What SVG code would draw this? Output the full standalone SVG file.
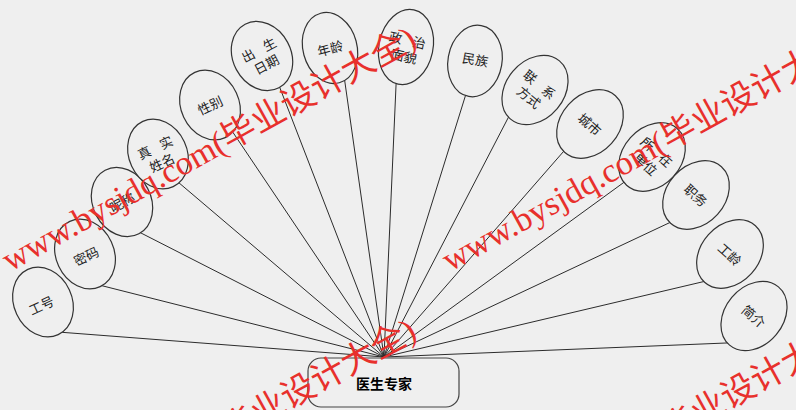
<svg xmlns="http://www.w3.org/2000/svg" xmlns:xlink="http://www.w3.org/1999/xlink" width="796" height="410" viewBox="0 0 796 410">
<style>
.bg{fill:#efefef}
.conn line{stroke:#2b2b2b;stroke-width:1}
.node ellipse{fill:#efefef;stroke:#333;stroke-width:1.2}
.node text{font-family:"Noto Sans CJK SC","Noto Sans",sans-serif;font-size:13px;fill:#222;text-anchor:middle;dominant-baseline:central}
.ent rect{fill:#efefef;stroke:#444;stroke-width:1.2}
.ent text{font-family:"Noto Sans CJK SC","Noto Sans",sans-serif;font-size:14px;font-weight:bold;fill:#000;text-anchor:middle;dominant-baseline:central}
.wm{font-family:"Liberation Serif","Noto Sans CJK SC",serif;font-size:34px;fill:#e8302c}
</style>
<defs>
<text id="wmtext" class="wm" x="0" y="0" textLength="467" lengthAdjust="spacingAndGlyphs">www.bysjdq.com(毕业设计大全)</text>
</defs>
<rect class="bg" x="0" y="0" width="796" height="410"/>
<g id="connectors" class="conn">
<line x1="58" y1="332" x2="384" y2="357"/>
<line x1="97.2" y1="284.5" x2="384" y2="357"/>
<line x1="135.7" y1="230.3" x2="384" y2="357"/>
<line x1="173.4" y1="178.1" x2="384" y2="357"/>
<line x1="232.7" y1="132" x2="384" y2="357"/>
<line x1="277.8" y1="82.4" x2="384" y2="357"/>
<line x1="344.2" y1="77.1" x2="384" y2="357"/>
<line x1="396.3" y1="79" x2="384" y2="357"/>
<line x1="466.8" y1="91.3" x2="384" y2="357"/>
<line x1="510.8" y1="112.7" x2="384" y2="357"/>
<line x1="567" y1="147.5" x2="384" y2="357"/>
<line x1="627.8" y1="179.5" x2="384" y2="357"/>
<line x1="674.4" y1="220.4" x2="384" y2="357"/>
<line x1="707.8" y1="280.6" x2="384" y2="357"/>
<line x1="731" y1="342.8" x2="384" y2="357"/>
</g>
<g id="n1" class="node" transform="translate(43,302) rotate(-25)"><ellipse rx="29" ry="36"/><text x="-3" y="2">工号</text></g>
<g id="n2" class="node" transform="translate(85,254) rotate(-25)"><ellipse rx="29" ry="36"/><text y="2">密码</text></g>
<g id="n3" class="node" transform="translate(122,202) rotate(-28)"><ellipse rx="29" ry="36"/><text y="0">昵称</text></g>
<g id="n4" class="node" transform="translate(158,154) rotate(-25)"><ellipse rx="29" ry="36"/><text y="-8"><tspan x="-12">真</tspan><tspan x="12">实</tspan></text><text y="9">姓名</text></g>
<g id="n5" class="node" transform="translate(210,105) rotate(-25)"><ellipse rx="29" ry="36"/><text y="0">性别</text></g>
<g id="n6" class="node" transform="translate(262,56) rotate(-28)"><ellipse rx="29" ry="36"/><text y="-8"><tspan x="-12">出</tspan><tspan x="12">生</tspan></text><text y="9">日期</text></g>
<g id="n7" class="node" transform="translate(330,48) rotate(-15)"><ellipse rx="27" ry="36"/><text y="0">年龄</text></g>
<g id="n8" class="node" transform="translate(406,47) rotate(12)"><ellipse rx="27" ry="38"/><text y="-8"><tspan x="-12">政</tspan><tspan x="12">治</tspan></text><text y="9">面貌</text></g>
<g id="n9" class="node" transform="translate(475,61) rotate(10)"><ellipse rx="27" ry="36"/><text y="-2">民族</text></g>
<g id="n10" class="node" transform="translate(535,90) rotate(40)"><ellipse rx="29" ry="38"/><text y="-8"><tspan x="-12">联</tspan><tspan x="12">系</tspan></text><text y="9">方式</text></g>
<g id="n11" class="node" transform="translate(590,124) rotate(42)"><ellipse rx="29" ry="38"/><text y="0">城市</text></g>
<g id="n12" class="node" transform="translate(652,157) rotate(42)"><ellipse rx="29" ry="38"/><text y="-8"><tspan x="-12">所</tspan><tspan x="12">在</tspan></text><text y="9">单位</text></g>
<g id="n13" class="node" transform="translate(696,195) rotate(42)"><ellipse rx="29" ry="38"/><text y="0">职务</text></g>
<g id="n14" class="node" transform="translate(730,254) rotate(42)"><ellipse rx="29" ry="38"/><text y="0">工龄</text></g>
<g id="n15" class="node" transform="translate(754,316) rotate(40)"><ellipse rx="29" ry="38"/><text y="0">简介</text></g>
<g id="entity" class="ent"><rect x="308" y="358" width="151" height="49" rx="13" ry="13"/><text x="384" y="383">医生专家</text></g>
<g id="watermark">
<use xlink:href="#wmtext" transform="translate(10,272) rotate(-29)"/>
<use xlink:href="#wmtext" transform="translate(450,272) rotate(-29)"/>
<use xlink:href="#wmtext" transform="translate(10,564) rotate(-29)"/>
<use xlink:href="#wmtext" transform="translate(450,564) rotate(-29)"/>
</g>
</svg>
